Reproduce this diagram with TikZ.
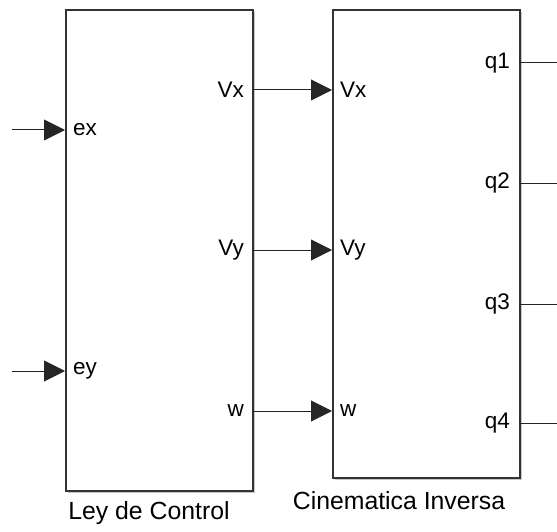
\documentclass[tikz,border=0pt]{standalone}
\usepackage{fontspec}
\setmainfont{Liberation Sans}
\usetikzlibrary{arrows.meta}
\begin{document}
\begin{tikzpicture}[x=1pt,y=-1pt,
  blk/.style={draw=black!80,line width=1.6pt,fill=white,rectangle,inner sep=0pt,anchor=north west},
  shad/.style={fill=black!22,draw=none},
  portl/.style={font=\fontsize{22.5}{24}\selectfont,inner sep=0pt,anchor=west},
  portr/.style={font=\fontsize{22.5}{24}\selectfont,inner sep=0pt,anchor=east},
  ttl/.style={font=\fontsize{24.8}{28}\selectfont,inner sep=0pt},
  conn/.style={draw=black!85,line width=1pt,-{Triangle[length=21pt,width=21pt]}},
  outl/.style={draw=black!85,line width=1pt}]
\useasboundingbox (0,0) rectangle (557,532);
% shadows
\fill[shad] (67.5,12) rectangle (254.5,492.5);
\fill[shad] (334.5,12) rectangle (521.5,479.5);
% blocks
\node[blk,minimum width=187pt,minimum height=480.5pt] (ley) at (65,9.5) {};
\node[blk,minimum width=187pt,minimum height=467.5pt] (cin) at (332,9.5) {};
% ports
\coordinate (ex) at (65,130);
\coordinate (ey) at (65,371);
\coordinate (lvx) at (252,90);
\coordinate (lvy) at (252,250);
\coordinate (lw) at (252,411);
\coordinate (cvx) at (332,90);
\coordinate (cvy) at (332,250);
\coordinate (cw) at (332,411);
\coordinate (q1) at (519,63);
\coordinate (q2) at (519,183);
\coordinate (q3) at (519,304);
\coordinate (q4) at (519,423);
\coordinate (inx) at (12,130);
\coordinate (iny) at (12,371);
\coordinate (o1) at (557,63);
\coordinate (o2) at (557,183);
\coordinate (o3) at (557,304);
\coordinate (o4) at (557,423);
% labels
\node[portl] (tex) at ([xshift=8pt]ex) {ex};
\node[portl] (tey) at ([xshift=8pt]ey) {ey};
\node[portr] (tlvx) at ([xshift=-8pt]lvx) {Vx};
\node[portr] (tlvy) at ([xshift=-8pt]lvy) {Vy};
\node[portr] (tlw) at ([xshift=-8pt]lw) {w};
\node[portl] (tcvx) at ([xshift=8pt]cvx) {Vx};
\node[portl] (tcvy) at ([xshift=8pt]cvy) {Vy};
\node[portl] (tcw) at ([xshift=8pt]cw) {w};
\node[portr] (tq1) at ([xshift=-9pt]q1) {q1};
\node[portr] (tq2) at ([xshift=-9pt]q2) {q2};
\node[portr] (tq3) at ([xshift=-9pt]q3) {q3};
\node[portr] (tq4) at ([xshift=-9pt]q4) {q4};
\node[ttl] (tley) at (149,513) {Ley de Control};
\node[ttl] (tcin) at (399,501) {Cinematica Inversa};
% connectors
\draw[conn] (inx) -- (ex);
\draw[conn] (iny) -- (ey);
\draw[conn] (lvx) -- (cvx);
\draw[conn] (lvy) -- (cvy);
\draw[conn] (lw) -- (cw);
\draw[outl] (q1) -- (o1);
\draw[outl] (q2) -- (o2);
\draw[outl] (q3) -- (o3);
\draw[outl] (q4) -- (o4);
\end{tikzpicture}
\end{document}
